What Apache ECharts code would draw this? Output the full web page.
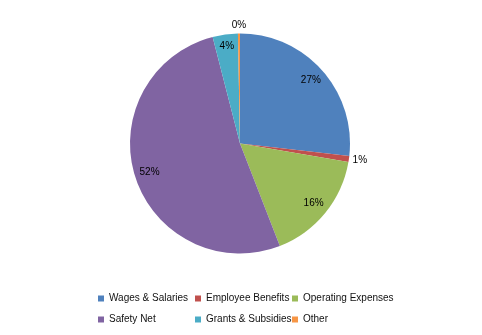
<!DOCTYPE html>
<html>
<head>
<meta charset="utf-8">
<script src="https://cdn.jsdelivr.net/npm/echarts@6/dist/echarts.min.js"></script>
<style>
  html, body { margin: 0; padding: 0; background: #fff; }
  #chart { width: 482px; height: 335px; }
</style>
</head>
<body>
<div id="chart"></div>
<script>
// Spending shares by category (percent of total)
const categories = ['Wages & Salaries', 'Employee Benefits', 'Operating Expenses', 'Safety Net', 'Grants & Subsidies', 'Other'];
const shares = [26.8, 0.9, 16.4, 51.9, 3.7, 0.3];
const colors = ['#4F81BD', '#C0504D', '#9BBB59', '#8064A2', '#4BACC6', '#F79646'];

const center = [240, 143.5];
const radius = 110;
const font = 'Liberation Sans, Arial, sans-serif';

const pieData = categories.map((name, i) => ({ name, value: shares[i] }));

// A transparent ring whose "inside" labels sit at distance `dist` from the centre,
// showing only the labels of the listed slices.
function labelRing(dist, shown) {
  return {
    type: 'pie',
    silent: true,
    center: center,
    radius: [dist - 12, dist + 12],
    startAngle: 90,
    clockwise: true,
    percentPrecision: 0,
    avoidLabelOverlap: false,
    itemStyle: { color: 'rgba(0,0,0,0)' },
    emphasis: { disabled: true },
    labelLine: { show: false },
    data: pieData.map((d, i) => ({
      name: d.name,
      value: d.value,
      label: { show: shown.indexOf(i) >= 0 }
    })),
    label: {
      position: 'inside',
      formatter: '{d}%',
      color: '#000',
      fontFamily: font,
      fontSize: 10
    },
    z: 3
  };
}

const chart = echarts.init(document.getElementById('chart'), null, { renderer: 'canvas' });
chart.setOption({
  animation: false,
  color: colors,
  legend: {
    data: categories,
    left: 98,
    top: 288,
    padding: 0,
    width: 300,
    itemWidth: 6,
    itemHeight: 6,
    itemGap: 0,
    icon: 'rect',
    selectedMode: false,
    textStyle: {
      color: '#111',
      fontFamily: font,
      fontSize: 10,
      width: 86,
      lineHeight: 21
    }
  },
  series: [
    {
      type: 'pie',
      center: center,
      radius: radius,
      startAngle: 90,
      clockwise: true,
      percentPrecision: 0,
      label: { show: false },
      labelLine: { show: false },
      emphasis: { disabled: true },
      itemStyle: { borderWidth: 0 },
      data: pieData,
      z: 2
    },
    labelRing(92, [0, 2, 3]),
    labelRing(95, [4]),
    labelRing(118, [1]),
    labelRing(115, [5])
  ]
});
</script>
</body>
</html>
